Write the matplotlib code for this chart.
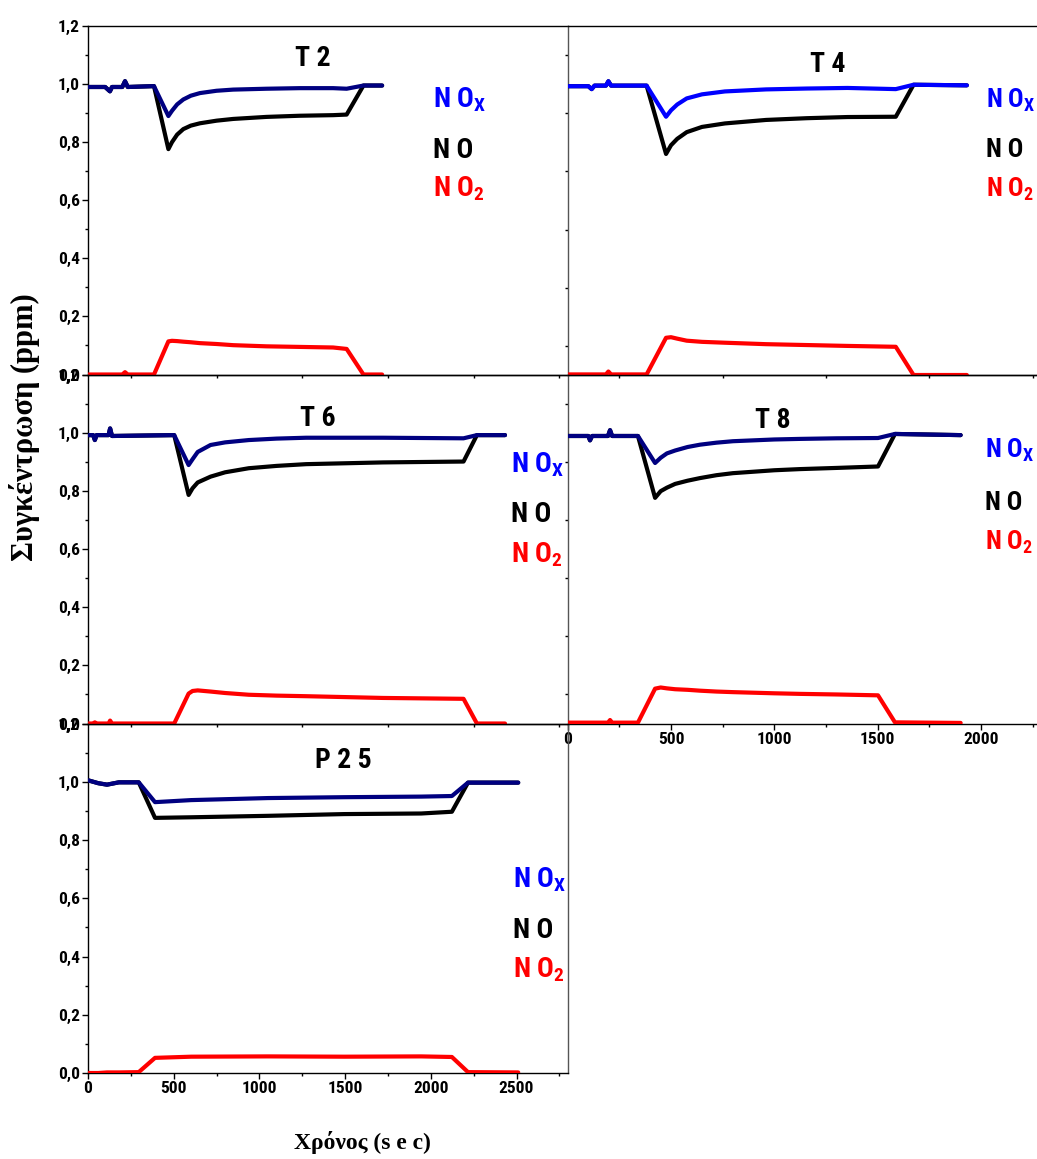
import matplotlib
matplotlib.use("Agg")
import matplotlib.pyplot as plt
from matplotlib import font_manager
from matplotlib.ticker import MultipleLocator, FuncFormatter

# ---------------- data ----------------
t_T2 = [0, 100, 128, 140, 200, 216, 232, 385, 469, 490, 520, 556, 600, 653, 750, 847, 1041, 1236, 1430, 1509, 1607, 1716]
nox_T2 = [0.99, 0.99, 0.975, 0.99, 0.99, 1.01, 0.99, 0.993, 0.89, 0.908, 0.930, 0.947, 0.960, 0.969, 0.977, 0.981, 0.984, 0.986, 0.986, 0.984, 0.995, 0.995]
no_T2 = [0.99, 0.99, 0.975, 0.99, 0.99, 1.01, 0.99, 0.993, 0.776, 0.800, 0.826, 0.845, 0.857, 0.865, 0.874, 0.880, 0.887, 0.891, 0.893, 0.895, 0.995, 0.995]
no2_T2 = [0.0, 0.0, 0.0, 0.0, 0.0, 0.008, 0.0, 0.0, 0.114, 0.116, 0.115, 0.113, 0.111, 0.108, 0.105, 0.101, 0.097, 0.095, 0.093, 0.088, 0.0, 0.0]

t_T4 = [0, 100, 116, 130, 185, 197, 210, 382, 476, 500, 530, 576, 650, 761, 960, 1157, 1354, 1588, 1674, 1932]
nox_T4 = [0.993, 0.993, 0.983, 0.995, 0.995, 1.01, 0.995, 0.995, 0.888, 0.910, 0.930, 0.951, 0.965, 0.975, 0.982, 0.985, 0.987, 0.983, 0.998, 0.996]
no_T4 = [0.993, 0.993, 0.983, 0.995, 0.995, 1.01, 0.995, 0.995, 0.760, 0.790, 0.812, 0.835, 0.853, 0.865, 0.877, 0.883, 0.887, 0.888, 0.998, 0.996]
no2_T4 = [0.002, 0.002, 0.002, 0.002, 0.002, 0.012, 0.002, 0.002, 0.128, 0.130, 0.125, 0.118, 0.114, 0.111, 0.106, 0.103, 0.100, 0.097, 0.0, 0.0]

t_T6 = [0, 30, 40, 50, 120, 129, 140, 503, 587, 610, 640, 715, 800, 938, 1100, 1273, 1720, 2191, 2269, 2433]
nox_T6 = [0.993, 0.993, 0.976, 0.993, 0.993, 1.016, 0.99, 0.993, 0.89, 0.91, 0.935, 0.959, 0.968, 0.976, 0.981, 0.984, 0.984, 0.982, 0.993, 0.993]
no_T6 = [0.993, 0.993, 0.976, 0.993, 0.993, 1.016, 0.99, 0.993, 0.787, 0.81, 0.83, 0.85, 0.865, 0.879, 0.887, 0.893, 0.899, 0.902, 0.993, 0.993]
no2_T6 = [0.0, 0.0, 0.004, 0.0, 0.0, 0.01, 0.0, 0.0, 0.103, 0.112, 0.114, 0.110, 0.105, 0.099, 0.096, 0.094, 0.088, 0.085, 0.0, 0.0]

t_T8 = [0, 100, 108, 118, 195, 205, 215, 340, 423, 450, 480, 520, 580, 640, 720, 800, 1000, 1125, 1300, 1502, 1584, 1902]
nox_T8 = [0.99, 0.99, 0.975, 0.99, 0.99, 1.01, 0.99, 0.99, 0.897, 0.915, 0.930, 0.940, 0.952, 0.960, 0.967, 0.972, 0.978, 0.98, 0.982, 0.983, 0.997, 0.993]
no_T8 = [0.99, 0.99, 0.975, 0.99, 0.99, 1.01, 0.99, 0.99, 0.777, 0.80, 0.812, 0.825, 0.836, 0.845, 0.855, 0.862, 0.872, 0.876, 0.88, 0.885, 0.997, 0.993]
no2_T8 = [0.003, 0.003, 0.003, 0.003, 0.003, 0.012, 0.003, 0.003, 0.12, 0.124, 0.121, 0.118, 0.116, 0.113, 0.110, 0.108, 0.104, 0.102, 0.1, 0.097, 0.004, 0.002]

t_P25 = [0, 60, 111, 180, 296, 391, 602, 1050, 1497, 1944, 2123, 2217, 2510]
nox_P25 = [1.005, 0.995, 0.99, 0.998, 0.998, 0.93, 0.937, 0.944, 0.947, 0.949, 0.951, 0.997, 0.997]
no_P25 = [1.005, 0.995, 0.99, 0.998, 0.998, 0.876, 0.878, 0.883, 0.889, 0.891, 0.897, 0.997, 0.997]
no2_P25 = [0.0, 0.0, 0.002, 0.002, 0.003, 0.052, 0.056, 0.057, 0.056, 0.057, 0.055, 0.003, 0.002]

panel_titles = ["T 2", "T 4", "T 6", "T 8", "P 2 5"]
legend_labels = [r"N O$_{\mathregular{X}}$", "N O", r"N O$_{\mathregular{2}}$"]
y_label = "Συγκέντρωση (ppm)"
x_label = "Χρόνος (s e c)"

# ---------------- fonts ----------------
avail = {f.name for f in font_manager.fontManager.ttflist}
narrow = None
for cand in ["Liberation Sans Narrow", "Arial Narrow", "Roboto Condensed", "Liberation Sans"]:
    if cand in avail:
        narrow = cand
        break
if narrow is None:
    narrow = "DejaVu Sans"
serif = "Liberation Serif" if "Liberation Serif" in avail else "DejaVu Serif"

plt.rcParams["font.family"] = [narrow, "DejaVu Sans"]
plt.rcParams["mathtext.fontset"] = "custom"
plt.rcParams["mathtext.rm"] = narrow + ":bold"
plt.rcParams["mathtext.it"] = narrow + ":bold"
plt.rcParams["mathtext.bf"] = narrow + ":bold"

W, H = 1037, 1159
fig = plt.figure(figsize=(W / 100, H / 100), dpi=100)
fig.patch.set_facecolor("white")

NAVY = "#000080"
BLUE = "#0000ff"
RED = "#ff0000"
GRAY = "#555555"
LW = 3.0


def px_axes(x0, y0, x1, y1):
    return fig.add_axes([x0 / W, 1 - y1 / H, (x1 - x0) / W, (y1 - y0) / H])


def comma(v, pos):
    return ("%.1f" % v).replace(".", ",")


def setup(ax, xlim, ylab=True, xlab=False):
    ax.set_xlim(*xlim)
    ax.set_ylim(0, 1.2)
    ax.patch.set_alpha(0)
    for s in ax.spines.values():
        s.set_linewidth(1.0)
        s.set_color("black")
    ax.yaxis.set_major_locator(MultipleLocator(0.2))
    ax.yaxis.set_minor_locator(MultipleLocator(0.1))
    ax.xaxis.set_major_locator(MultipleLocator(500))
    ax.xaxis.set_minor_locator(MultipleLocator(250))
    ax.yaxis.set_major_formatter(FuncFormatter(comma))
    ax.tick_params(which="both", direction="out", width=1.0, labelsize=12.5, pad=2)
    ax.tick_params(which="major", length=4)
    ax.tick_params(which="minor", length=2.5)
    ax.tick_params(axis="y", left=ylab, labelleft=ylab, right=False)
    ax.tick_params(axis="x", bottom=xlab, labelbottom=xlab, top=False)
    for lab in ax.get_yticklabels() + ax.get_xticklabels():
        lab.set_fontweight("bold")


def plot_panel(ax, t, nox, no, no2, nox_color):
    kw = dict(lw=LW, solid_joinstyle="round", solid_capstyle="round")
    ax.plot(t, no, color="black", zorder=3, **kw)
    ax.plot(t, no2, color=RED, zorder=3, **kw)
    ax.plot(t, nox, color=nox_color, zorder=4, **kw)


def legend(x, ys, size=20):
    cols = [BLUE, "black", RED]
    for lab, y, c in zip(legend_labels, ys, cols):
        fig.text(x / W, 1 - y / H, lab, color=c, fontsize=size, fontweight="bold",
                 ha="left", va="center")


def title(x, y, s):
    fig.text(x / W, 1 - y / H, s, fontsize=20, fontweight="bold", ha="center", va="center")


XS = 0.1714   # px per sec, left column
XR = 0.2066   # px per sec, right column
xl_left = (0, (567.7 - 88) / XS)
xl_right = (0, (1045 - 567.7) / XR)

# T2
ax2 = px_axes(88, 26, 567.7, 374.5)
setup(ax2, xl_left)
ax2.spines["right"].set_visible(False)
plot_panel(ax2, t_T2, nox_T2, no_T2, no2_T2, NAVY)

# T4
ax4 = px_axes(567.7, 26, 1045, 375)
setup(ax4, xl_right, ylab=False)
ax4.spines["left"].set_color(GRAY)
plot_panel(ax4, t_T4, nox_T4, no_T4, no2_T4, BLUE)

# T6
ax6 = px_axes(88, 375, 567.7, 723.5)
setup(ax6, xl_left)
ax6.spines["right"].set_visible(False)
plot_panel(ax6, t_T6, nox_T6, no_T6, no2_T6, NAVY)

# T8
ax8 = px_axes(567.7, 375, 1045, 723.5)
setup(ax8, xl_right, ylab=False, xlab=True)
ax8.spines["left"].set_color(GRAY)
plot_panel(ax8, t_T8, nox_T8, no_T8, no2_T8, NAVY)

# P25
axp = px_axes(88, 723.5, 567.7, 1073)
setup(axp, xl_left, xlab=True)
axp.spines["right"].set_color(GRAY)
plot_panel(axp, t_P25, nox_P25, no_P25, no2_P25, NAVY)

# titles
title(313, 58, panel_titles[0])
title(828, 65, panel_titles[1])
title(318, 418, panel_titles[2])
title(773, 420, panel_titles[3])
title(343, 760, panel_titles[4])

# legends
legend(433, [100, 150, 189])
legend(986, [100, 150, 189], size=18.5)
legend(511, [465, 515, 555])
legend(985, [450, 503, 542], size=18.5)
legend(513, [880, 930, 970])

# axis labels
fig.text(25 / W, 1 - 427 / H, y_label, rotation=90, fontsize=22, fontweight="bold",
         family=[serif, "DejaVu Serif"], ha="center", va="center")
fig.text(362 / W, 1 - 1143 / H, x_label, fontsize=17, fontweight="bold",
         family=[serif, "DejaVu Serif"], ha="center", va="center")

fig.savefig("out.png", dpi=100, facecolor="white")
